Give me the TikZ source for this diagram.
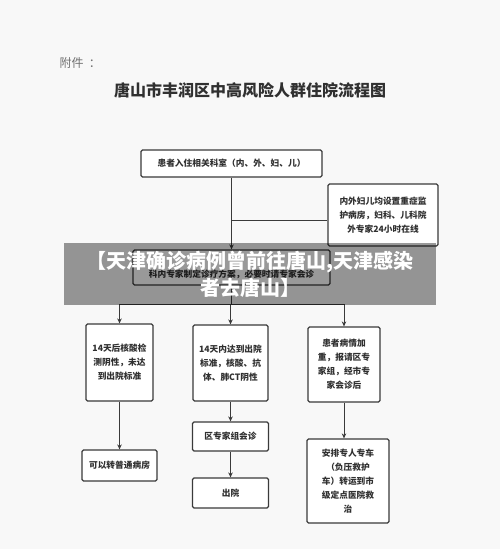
\documentclass[tikz,border=0pt]{standalone}
\usepackage{fontspec}
\newfontfamily\cjk{Noto Sans CJK SC}
\usetikzlibrary{arrows.meta}
\definecolor{linec}{HTML}{3A3A3A}
\definecolor{txtc}{HTML}{303030}
\definecolor{bgc}{HTML}{F8F8F8}
\definecolor{notec}{HTML}{707070}
\tikzset{
  box/.style={draw=linec, line width=1.2pt, rounded corners=1.5pt, fill=white,
    align=center, inner sep=0pt, text=txtc,
    font=\cjk\bfseries\fontsize{8.7}{14}\selectfont},
  boxtext/.style={align=center, inner sep=0pt, text=txtc,
    font=\cjk\bfseries\fontsize{8.7}{14}\selectfont},
  conn/.style={draw=linec, line width=1pt},
  arr/.style={conn, -{Stealth[length=5pt,width=4.5pt]}},
  banner/.style={fill=black, fill opacity=0.4, text opacity=1, text=white,
    align=center, inner sep=0pt, minimum width=372pt, minimum height=62pt,
    font=\cjk\bfseries\fontsize{20}{27}\selectfont},
}
\begin{document}
\begin{tikzpicture}[x=1pt,y=-1pt]
  \useasboundingbox (0,0) rectangle (500,549);
  \fill[bgc] (0,0) rectangle (500,549);

  \node[text=notec, font=\cjk\fontsize{12}{14}\selectfont, anchor=west] (note) at (56,63) {附件 \ ：};
  \node[text=txtc, font=\cjk\bfseries\fontsize{16}{18}\selectfont] (title) at (250,90) {唐山市丰润区中高风险人群住院流程图};

  \node[box, minimum width=181pt, minimum height=27pt] (top) at (231.5,163.5) {患者入住相关科室（内、外、妇、儿）};
  \node[box, minimum width=110pt, minimum height=62pt] (icu) at (383,215) {内外妇儿均设置重症监\\护病房，妇科、儿科院\\外专家24小时在线};
  \node[box, minimum width=197pt, minimum height=35pt] (plan) at (231.5,267.5) {};
  \node[boxtext] (plantext) at (231.5,274) {科内专家制定诊疗方案，必要时请专家会诊};

  \node[box, minimum width=67pt, minimum height=77pt] (a) at (119.5,362.5) {14天后核酸检\\测阴性，未达\\到出院标准};
  \node[box, minimum width=75pt, minimum height=76pt] (b) at (230.5,363) {14天内达到出院\\标准，核酸、抗\\体、肺CT阴性};
  \node[box, minimum width=72pt, minimum height=75pt] (c) at (344,364.5) {患者病情加\\重，报请区专\\家组，经市专\\家会诊后};

  \node[box, minimum width=75pt, minimum height=31pt] (d) at (119.5,465.5) {可以转普通病房};
  \node[box, minimum width=76pt, minimum height=29pt] (e) at (230.5,436.5) {区专家组会诊};
  \node[box, minimum width=76pt, minimum height=30pt] (f) at (230.5,493) {出院};
  \node[box, minimum width=82pt, minimum height=84pt] (g) at (348,481) {安排专人专车\\（负压救护\\车）转运到市\\级定点医院救\\治};

  \coordinate (j) at (231.5,220);
  \coordinate (k) at (231.5,304);
  \coordinate (kl) at (119.5,304);
  \coordinate (kr) at (344,304);

  \draw[arr] (top.south) -- (plan.north);
  \draw[conn] (j) -- (j -| icu.west);
  \draw[conn] (plan.south) -- (k);
  \draw[conn] (kl) -- (kr);
  \draw[arr] (kl) -- (a.north);
  \draw[arr] (b.north |- k) -- (b.north);
  \draw[arr] (kr) -- (c.north);
  \draw[arr] (a.south) -- (d.north);
  \draw[arr] (b.south) -- (e.north);
  \draw[arr] (e.south) -- (f.north);
  \draw[arr] (c.south) -- (c.south |- g.north);

  \node[banner] (bn) at (250,274) {【天津确诊病例曾前往唐山,天津感染\\者去唐山】};
\end{tikzpicture}
\end{document}
